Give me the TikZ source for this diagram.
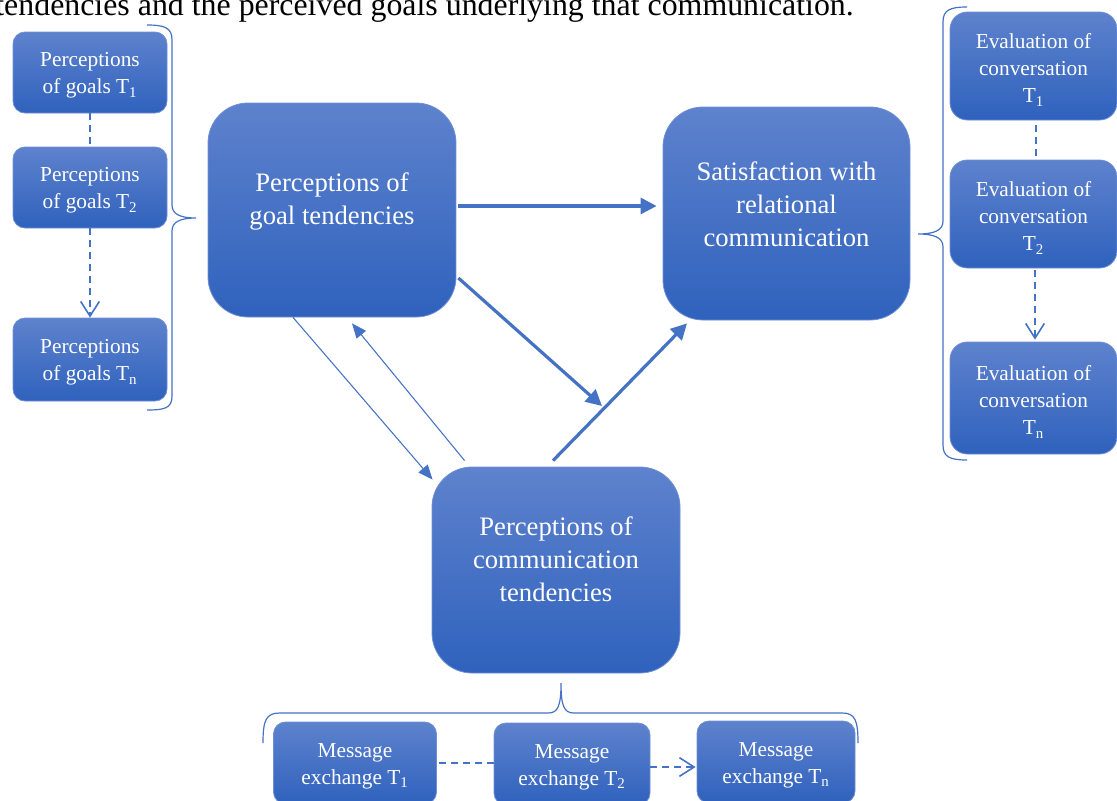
\documentclass[tikz,border=0pt]{standalone}
\usepackage{fontspec}
\setmainfont{Liberation Serif}
\usetikzlibrary{arrows.meta,calc}
\definecolor{arrowblue}{RGB}{68,114,196}
\definecolor{boxtop}{RGB}{94,130,205}
\definecolor{boxbot}{RGB}{47,98,189}
\definecolor{boxedge}{RGB}{112,142,212}
\begin{document}
\begin{tikzpicture}[x=0.75pt,y=-0.75pt,
  wh/.style 2 args={minimum width=#1*0.75pt, minimum height=#2*0.75pt},
  box/.style={draw=boxedge, line width=0.6pt, top color=boxtop, bottom color=boxbot,
    text=white, align=center, inner sep=0pt},
  smallbox/.style={box, rounded corners=9pt},
  evalbox/.style={box, rounded corners=13pt},
  bigbox/.style={box, rounded corners=30pt},
  stxt/.style={text=white, align=center, inner sep=0pt, font=\fontsize{16}{20.25}\selectfont, yshift=-2.4pt},
  bigtext/.style={text=white, align=center, inner sep=0pt, font=\fontsize{20}{24.75}\selectfont},
  thickarrow/.style={draw=arrowblue, line width=2.4pt, -{Triangle[length=12pt,width=12pt]}},
  thinarrow/.style={draw=arrowblue, line width=0.8pt, -{Triangle[length=11pt,width=9pt]}},
  dashline/.style={draw=arrowblue, line width=1.4pt, dash pattern=on 5pt off 4pt},
  dasharrow/.style={dashline, -{Straight Barb[length=11pt,width=14pt,line width=1.2pt]}},
  bracepath/.style={draw=arrowblue, line width=0.9pt}
]
\useasboundingbox (0,0) rectangle (1117,800);
\clip (0,0) rectangle (1117,800);

% caption fragment at the top
\node[anchor=base east, inner sep=0pt, font=\fontsize{23.9}{28}\selectfont] (cap) at (854,15)
  {tendencies and the perceived goals underlying that communication.};

% left column
\node[smallbox, wh={154}{81}, label={[stxt]center:{Perceptions\\of goals T\textsubscript{1}}}] (g1) at (90,72.5) {};
\node[smallbox, wh={154}{81}, label={[stxt]center:{Perceptions\\of goals T\textsubscript{2}}}] (g2) at (90,187.5) {};
\node[smallbox, wh={154}{83}, label={[stxt]center:{Perceptions\\of goals T\textsubscript{n}}}] (gn) at (90,359.5) {};

% main boxes
\node[bigbox, wh={248}{214}] (goal) at (332,210) {};
\node[bigtext] (goalt) at (332,201) {Perceptions of\\goal tendencies};
\node[bigbox, wh={247}{213}] (sat) at (786.5,213.5) {};
\node[bigtext] (satt) at (786.5,204) {Satisfaction with\\relational\\communication};
\node[bigbox, wh={248}{206}] (comm) at (556,570) {};
\node[bigtext] (commt) at (556,559) {Perceptions of\\communication\\tendencies};

% right column
\node[evalbox, wh={167}{108}, label={[stxt,yshift=-0.6pt]center:{Evaluation of\\conversation\\T\textsubscript{1}}}] (e1) at (1033.5,66) {};
\node[evalbox, wh={167}{108}, label={[stxt,yshift=-0.6pt]center:{Evaluation of\\conversation\\T\textsubscript{2}}}] (e2) at (1033.5,214) {};
\node[evalbox, wh={167}{112}, label={[stxt,yshift=-0.6pt]center:{Evaluation of\\conversation\\T\textsubscript{n}}}] (en) at (1033.5,398) {};

% bottom row
\node[smallbox, wh={163}{82}, label={[stxt]center:{Message\\exchange T\textsubscript{1}}}] (m1) at (355,763) {};
\node[smallbox, wh={156}{82}, label={[stxt]center:{Message\\exchange T\textsubscript{2}}}] (m2) at (572,764) {};
\node[smallbox, wh={158}{82}, label={[stxt]center:{Message\\exchange T\textsubscript{n}}}] (mn) at (776,762) {};

% braces
\draw[bracepath] (147,25) .. controls (165,25) and (172,28) .. (172,40) -- (172,205)
  .. controls (172,214) and (180,218) .. (196,218)
  .. controls (180,218) and (172,222) .. (172,231) -- (172,396)
  .. controls (172,408) and (165,410) .. (147,410);
\draw[bracepath] (967,7) .. controls (950,7) and (943,10) .. (943,22) -- (943,221)
  .. controls (943,230) and (935,234) .. (918,234)
  .. controls (935,234) and (943,238) .. (943,247) -- (943,445)
  .. controls (943,457) and (950,460) .. (967,460);
\draw[bracepath] (263,743) .. controls (263,720) and (266,713) .. (280,713) -- (548,713)
  .. controls (558,713) and (561,706) .. (561,683)
  .. controls (561,706) and (564,713) .. (574,713) -- (842,713)
  .. controls (855,713) and (858,720) .. (858,743);

% main connectors
\coordinate (med) at (602,406);
\draw[thickarrow] ([shift={(2,-4)}]goal.east) -- ([shift={(-6,-7.5)}]sat.west);
\draw[thickarrow] ([shift={(2,68)}]goal.east) -- (med);
\draw[thickarrow] ([shift={(-3,-6)}]comm.north) -- ([shift={(-99.5,3)}]sat.south);
\draw[thinarrow] ([shift={(-39,0)}]goal.south) -- ([shift={(1,13)}]comm.north west);
\draw[thinarrow] ([shift={(33,-6)}]comm.north west) -- ([shift={(20,6)}]goal.south);

% dashed sequences
\draw[dashline] (g1.south) -- (g2.north);
\draw[dasharrow] (g2.south) -- (gn.north);
\draw[dashline] ([shift={(2.5,5)}]e1.south) -- ([shift={(2.5,-3)}]e2.north);
\draw[dasharrow] ([shift={(1.5,2)}]e2.south) -- ([shift={(1.5,-2)}]en.north);
\draw[dashline] ([shift={(2,0)}]m1.east) -- ([shift={(0,-1)}]m2.west);
\draw[dasharrow] ([shift={(0,3)}]m2.east) -- ([shift={(-1,5)}]mn.west);
\end{tikzpicture}
\end{document}
